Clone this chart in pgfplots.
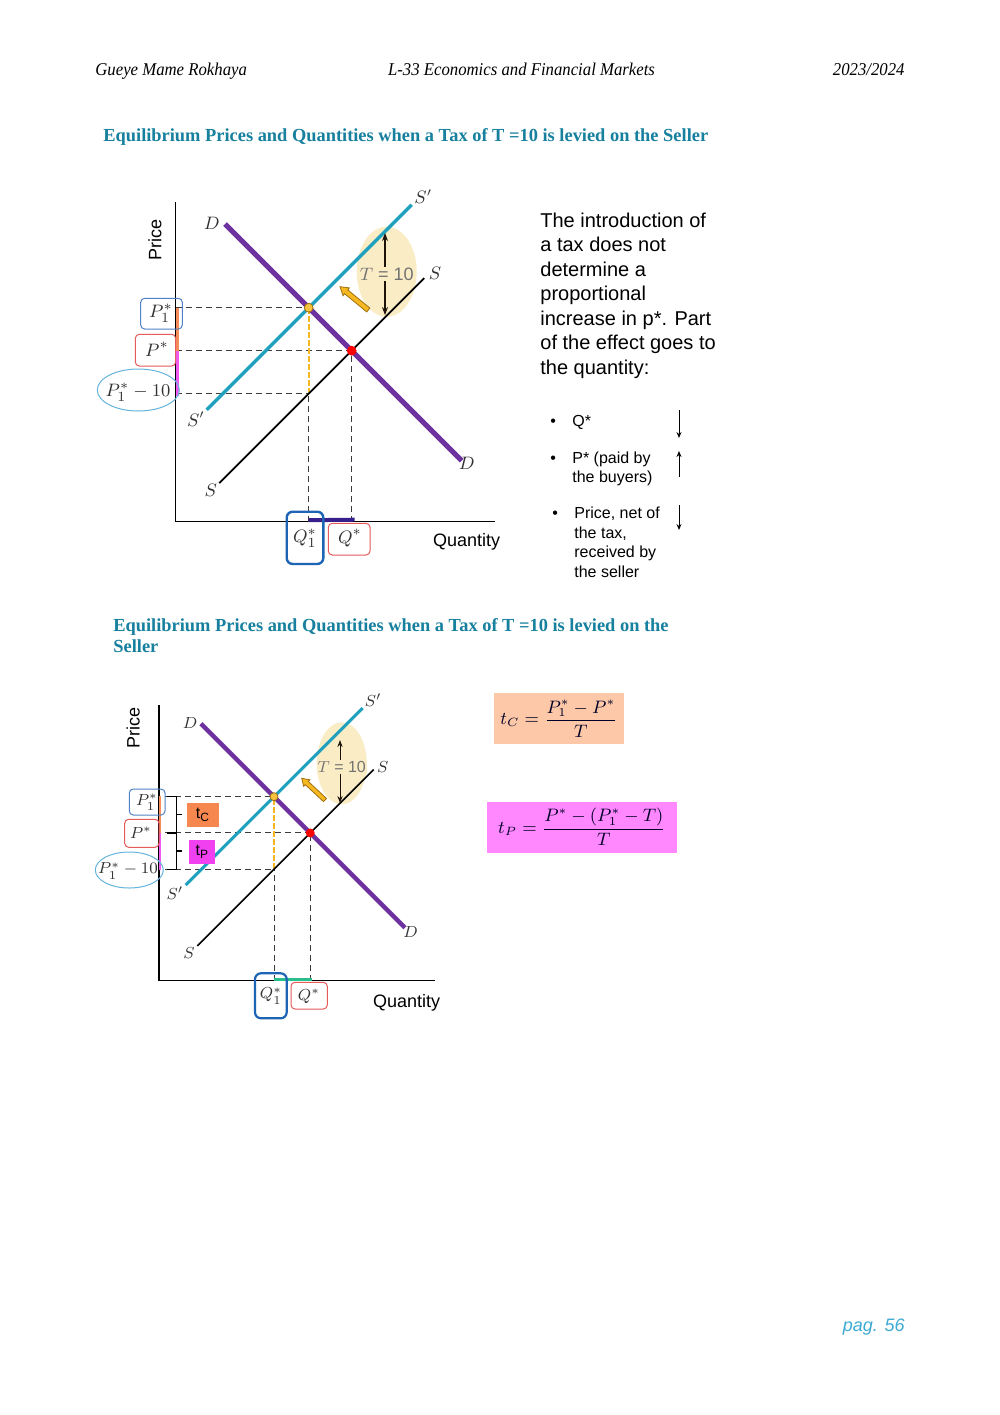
\documentclass[border=0pt]{standalone}
\usepackage{fontspec}
\setmainfont{Liberation Sans}
\newfontfamily\seriffont{Liberation Serif}
\newfontfamily\serifcond{Liberation Serif}[FakeStretch=0.93]
\usepackage{pgfplots}
\pgfplotsset{compat=1.18}
\usetikzlibrary{arrows.meta}
\definecolor{titleteal}{RGB}{22,128,158}
\definecolor{scyan}{RGB}{30,160,190}
\definecolor{dpurple}{RGB}{110,50,160}
\definecolor{navyseg}{RGB}{55,30,140}
\definecolor{greenseg}{RGB}{40,190,140}
\definecolor{orangeseg}{RGB}{245,140,90}
\definecolor{magseg}{RGB}{240,90,240}
\definecolor{boxblue}{RGB}{80,130,200}
\definecolor{boxblueD}{RGB}{30,100,180}
\definecolor{boxred}{RGB}{230,90,90}
\definecolor{ellblue}{RGB}{100,180,220}
\definecolor{tell}{RGB}{250,236,196}
\definecolor{goldf}{RGB}{245,184,32}
\definecolor{goldd}{RGB}{160,112,16}
\definecolor{footblue}{RGB}{60,170,210}
\definecolor{lbl}{RGB}{50,50,50}
\definecolor{tcbox}{RGB}{252,200,168}
\definecolor{tpbox}{RGB}{255,136,255}
\definecolor{tcfill}{RGB}{245,135,79}
\definecolor{tpfill}{RGB}{240,64,240}
\definecolor{dashc}{RGB}{60,60,60}
\begin{document}
\begin{tikzpicture}
\begin{scope}[x=0.5pt,y=-0.5pt]
\fill[white] (0,0) rectangle (1000,1415);
\fill[tell] (386.7,271.7) ellipse [x radius=15pt, y radius=22.5pt];
\fill[tell] (341.7,763.3) ellipse [x radius=12.5pt, y radius=20.5pt];
\end{scope}
% ---------------- top diagram ----------------
\begin{axis}[
  at={(87.85pt,-260.85pt)}, anchor=south west,
  scale only axis, width=159.65pt, height=160pt,
  xmin=0, xmax=319.3, ymin=0, ymax=320,
  axis lines=left, axis line style={-, line width=0.6pt},
  xtick=\empty, ytick=\empty, clip=false,
]
% dashed guides
\addplot[dashc, line width=0.5pt, dash pattern=on 3pt off 2pt] coordinates {(0,214) (133,214)};
\addplot[dashc, line width=0.5pt, dash pattern=on 3pt off 2pt] coordinates {(0,171) (176,171)};
\addplot[dashc, line width=0.5pt, dash pattern=on 3pt off 2pt] coordinates {(0,128) (133,128)};
\addplot[dashc, line width=0.5pt, dash pattern=on 3pt off 2pt] coordinates {(176,0) (176,171)};
\addplot[dashc, line width=0.5pt, dash pattern=on 3pt off 2pt] coordinates {(133,0) (133,128)};
\addplot[goldf, line width=0.8pt, dash pattern=on 3pt off 1pt] coordinates {(133,128) (133,214)};
% coloured segments on the axes
\addplot[orangeseg, line width=1.5pt] coordinates {(1.5,214) (1.5,171)};
\addplot[magseg, line width=1.5pt] coordinates {(1.5,171) (1.5,126)};
\addplot[navyseg, line width=2pt] coordinates {(133,1.5) (179,2)};
% equilibrium points
\addplot[only marks, mark=*, mark size=2.2pt, mark options={fill=goldf!85!white, draw=goldd}] coordinates {(133,214)};
\addplot[only marks, mark=*, mark size=2.2pt, mark options={fill=red, draw=red}] coordinates {(176,171)};
% curves
\addplot[black, line width=0.9pt] coordinates {(43.6,38.6) (248.6,243.6)};
\addplot[scyan, line width=1.7pt] coordinates {(31,112) (236,317)};
\addplot[dpurple, line width=2.5pt] coordinates {(49.3,297.7) (286,61)};
\end{axis}
% ---------------- bottom diagram ----------------
\begin{axis}[
  at={(79.5pt,-490.35pt)}, anchor=south west,
  scale only axis, width=138pt, height=137.85pt,
  xmin=0, xmax=276, ymin=0, ymax=275.7,
  axis lines=left, axis line style={-, line width=0.6pt},
  xtick=\empty, ytick=\empty, clip=false,
]
\addplot[dashc, line width=0.5pt, dash pattern=on 3pt off 2pt] coordinates {(6,184) (115,184)};
\addplot[dashc, line width=0.5pt, dash pattern=on 3pt off 2pt] coordinates {(6,147.75) (151.25,147.75)};
\addplot[dashc, line width=0.5pt, dash pattern=on 3pt off 2pt] coordinates {(6,111.5) (115,111.5)};
\addplot[dashc, line width=0.5pt, dash pattern=on 3pt off 2pt] coordinates {(151.25,0) (151.25,147.75)};
\addplot[dashc, line width=0.5pt, dash pattern=on 3pt off 2pt] coordinates {(115,0) (115,111.5)};
\addplot[goldf, line width=0.7pt, dash pattern=on 3pt off 1pt] coordinates {(115,111.5) (115,184)};
\addplot[orangeseg, line width=1.4pt] coordinates {(1,185) (1,148)};
\addplot[magseg, line width=1.4pt] coordinates {(1,148) (1,110.5)};
\addplot[greenseg, line width=1.6pt] coordinates {(115,1.5) (153,1.5)};
\addplot[only marks, mark=*, mark size=2pt, mark options={fill=goldf!85!white, draw=goldd}] coordinates {(115,184)};
\addplot[only marks, mark=*, mark size=2pt, mark options={fill=red, draw=red}] coordinates {(151.25,147.75)};
\addplot[black, line width=0.8pt] coordinates {(38.3,34.8) (214.7,211.2)};
\addplot[scyan, line width=1.5pt] coordinates {(26.7,95.7) (203.7,272.7)};
\addplot[dpurple, line width=2.2pt] coordinates {(42,257) (246,53)};
\end{axis}
% ---------------- annotations ----------------
\begin{scope}[x=0.5pt,y=-0.5pt]
% header
\node[anchor=base west, inner sep=0pt, font=\serifcond\itshape\fontsize{9}{11}\selectfont] at (95,75) {Gueye Mame Rokhaya};
\node[anchor=base, inner sep=0pt, font=\serifcond\itshape\fontsize{9}{11}\selectfont] at (521.5,75) {L-33 Economics and Financial Markets};
\node[anchor=base east, inner sep=0pt, font=\serifcond\itshape\fontsize{9}{11}\selectfont] at (905,75) {2023/2024};
% titles
\node[anchor=base west, inner sep=0pt, font=\seriffont\bfseries\fontsize{9.2}{11}\selectfont, text=titleteal] at (103,141) {Equilibrium Prices and Quantities when a Tax of T =10 is levied on the Seller};
\node[anchor=base west, inner sep=0pt, font=\seriffont\bfseries\fontsize{9.2}{11}\selectfont, text=titleteal] at (113,631) {Equilibrium Prices and Quantities when a Tax of T =10 is levied on the};
\node[anchor=base west, inner sep=0pt, font=\seriffont\bfseries\fontsize{9.2}{11}\selectfont, text=titleteal] at (113,652) {Seller};
% footer
\node[anchor=base east, inner sep=0pt, font=\itshape\fontsize{9}{11}\selectfont, text=footblue] at (905,1331) {pag. 56};

% ---- top diagram labels
\node[rotate=90, font=\fontsize{9}{11}\selectfont] at (155,240) {Price};
\node[font=\fontsize{9}{11}\selectfont] at (466.7,541.7) {Quantity};
\draw[boxblue, line width=0.5pt, rounded corners=2pt] (140.7,298.3) rectangle (182.3,329);
\node[text=lbl, font=\fontsize{9.5}{11}\selectfont] at (161,313) {$P_1^*$};
\draw[boxred, line width=0.5pt, rounded corners=2pt] (135.3,334.3) rectangle (175.7,366);
\node[text=lbl, font=\fontsize{9.5}{11}\selectfont] at (157,349) {$P^*$};
\draw[ellblue, line width=0.5pt] (138.3,390) ellipse [x radius=20.5pt, y radius=10.5pt];
\node[text=lbl, font=\fontsize{9.5}{11}\selectfont] at (138,392) {$P_1^*-10$};
\draw[boxblueD, line width=1.2pt, rounded corners=3pt] (286.7,511.7) rectangle (323.3,564);
\node[text=lbl, font=\fontsize{9.5}{11}\selectfont] at (305,538) {$Q_1^*$};
\draw[boxred, line width=0.5pt, rounded corners=2pt] (328.3,523.3) rectangle (370,555);
\node[text=lbl, font=\fontsize{9.5}{11}\selectfont] at (350,538) {$Q^*$};
\node[text=lbl, font=\fontsize{9}{11}\selectfont] at (423.3,196.7) {$S'$};
\node[text=lbl, font=\fontsize{9}{11}\selectfont] at (196,419.3) {$S'$};
\node[text=lbl, font=\fontsize{9}{11}\selectfont] at (435,273.3) {$S$};
\node[text=lbl, font=\fontsize{9}{11}\selectfont] at (210.7,490) {$S$};
\node[text=lbl, font=\fontsize{9}{11}\selectfont] at (211.7,223.3) {$D$};
\node[text=lbl, font=\fontsize{9}{11}\selectfont] at (466.7,463.3) {$D$};
\draw[black!85!brown, line width=0.6pt, {Stealth[length=4pt,width=3pt]}-{Stealth[length=4pt,width=3pt]}] (385,233) -- (385,315);
\node[fill=tell, inner sep=0.5pt, text=black!55, font=\fontsize{9}{11}\selectfont] at (386.7,274) {$T$ = 10};
\filldraw[fill=goldf, draw=goldd, line width=0.4pt] (369.9,308.1) -- (347.8,289.9) -- (349.4,287.9) -- (340,286.7) -- (343.0,295.7) -- (344.6,293.7) -- (366.7,311.9) -- cycle;

% ---- right text
\begin{scope}[every node/.style={anchor=base west, inner sep=0pt, font=\fontsize{10}{12}\selectfont}]
\node at (540,227) {The introduction of};
\node at (540,251.5) {a tax does not};
\node at (540,276) {determine a};
\node at (540,300.5) {proportional};
\node at (540,325) {increase in p*. Part};
\node at (540,349.5) {of the effect goes to};
\node at (540,374) {the quantity:};
\end{scope}
\begin{scope}[every node/.style={anchor=base west, inner sep=0pt, font=\fontsize{8}{10}\selectfont}]
\node at (550,426) {•};
\node at (572,426) {Q*};
\node at (550,463) {•};
\node at (572,463) {P* (paid by};
\node at (572,482.5) {the buyers)};
\node at (552,518.5) {•};
\node at (574,518.5) {Price, net of};
\node at (574,538) {the tax,};
\node at (574,557.5) {received by};
\node at (574,577) {the seller};
\end{scope}
\draw[line width=0.5pt, -{Stealth[length=3pt,width=2.5pt]}] (679,410) -- (679,438);
\draw[line width=0.5pt, -{Stealth[length=3pt,width=2.5pt]}] (679,477) -- (679,451);
\draw[line width=0.5pt, -{Stealth[length=3pt,width=2.5pt]}] (679,505) -- (679,530);

% ---- bottom diagram labels
\node[rotate=90, font=\fontsize{9}{11}\selectfont] at (133.3,728.3) {Price};
\node[font=\fontsize{9}{11}\selectfont] at (406.7,1003.3) {Quantity};
\draw[boxblue, line width=0.5pt, rounded corners=2pt] (129.3,789) rectangle (165,815);
\node[text=lbl, font=\fontsize{8.5}{10}\selectfont] at (147,802.5) {$P_1^*$};
\draw[boxred, line width=0.5pt, rounded corners=2pt] (124.7,819.3) rectangle (159,847.3);
\node[text=lbl, font=\fontsize{8.5}{10}\selectfont] at (141,833) {$P^*$};
\draw[ellblue, line width=0.5pt] (129.3,870) ellipse [x radius=17pt, y radius=9pt];
\node[text=lbl, font=\fontsize{8.5}{10}\selectfont] at (128,871) {$P_1^*-10$};
\draw[boxblueD, line width=1.1pt, rounded corners=3pt] (255,973.3) rectangle (286.7,1018.3);
\node[text=lbl, font=\fontsize{8.5}{10}\selectfont] at (271,996) {$Q_1^*$};
\draw[boxred, line width=0.5pt, rounded corners=2pt] (291,982.3) rectangle (327.3,1009);
\node[text=lbl, font=\fontsize{8.5}{10}\selectfont] at (309,996) {$Q^*$};
\node[text=lbl, font=\fontsize{8}{10}\selectfont] at (373.3,700) {$S'$};
\node[text=lbl, font=\fontsize{8}{10}\selectfont] at (175,893.3) {$S'$};
\node[text=lbl, font=\fontsize{8}{10}\selectfont] at (382.7,766.7) {$S$};
\node[text=lbl, font=\fontsize{8}{10}\selectfont] at (189,953.3) {$S$};
\node[text=lbl, font=\fontsize{8}{10}\selectfont] at (190,723.3) {$D$};
\node[text=lbl, font=\fontsize{8}{10}\selectfont] at (410.7,931.7) {$D$};
\draw[black!85!brown, line width=0.5pt, {Stealth[length=3.5pt,width=2.6pt]}-{Stealth[length=3.5pt,width=2.6pt]}] (340,740) -- (340,803);
\node[fill=tell, inner sep=0.5pt, text=black!55, font=\fontsize{8}{10}\selectfont] at (341.7,767) {$T$ = 10};
\filldraw[fill=goldf, draw=goldd, line width=0.4pt] (326.5,798.4) -- (308.3,781.5) -- (309.9,779.8) -- (301.7,778.3) -- (303.7,786.4) -- (305.3,784.7) -- (323.5,801.6) -- cycle;
% braces
\draw[black, line width=0.6pt] (166.7,796.7) -- (176.7,796.7) -- (176.7,832.95) -- (166.7,832.95);
\draw[black, line width=0.6pt] (176.7,814.8) -- (182,814.8);
\draw[black, line width=0.6pt] (176.7,832.95) -- (176.7,869.2) -- (166.7,869.2);
\draw[black, line width=0.6pt] (176.7,851) -- (182,851);
\fill[tcfill] (187.3,802.7) rectangle (218.7,826.7);
\node[font=\fontsize{8}{10}\selectfont] at (203,815) {t\textsubscript{C}};
\fill[tpfill] (189.3,840) rectangle (215.3,864);
\node[font=\fontsize{8}{10}\selectfont] at (202.3,852) {t\textsubscript{P}};

% ---- formula boxes
\fill[tcbox] (494.3,693.3) rectangle (624.3,744);
\node[text=black!85!blue, font=\fontsize{9}{11}\selectfont] at (559,718.5) {$t_C=\displaystyle\frac{P_1^*-P^*}{T}$};
\fill[tpbox] (487.3,801.7) rectangle (676.7,852.7);
\node[text=black!85!blue, font=\fontsize{9}{11}\selectfont] at (582,827) {$t_P=\displaystyle\frac{P^*-(P_1^*-T)}{T}$};
\end{scope}
\end{tikzpicture}
\end{document}
